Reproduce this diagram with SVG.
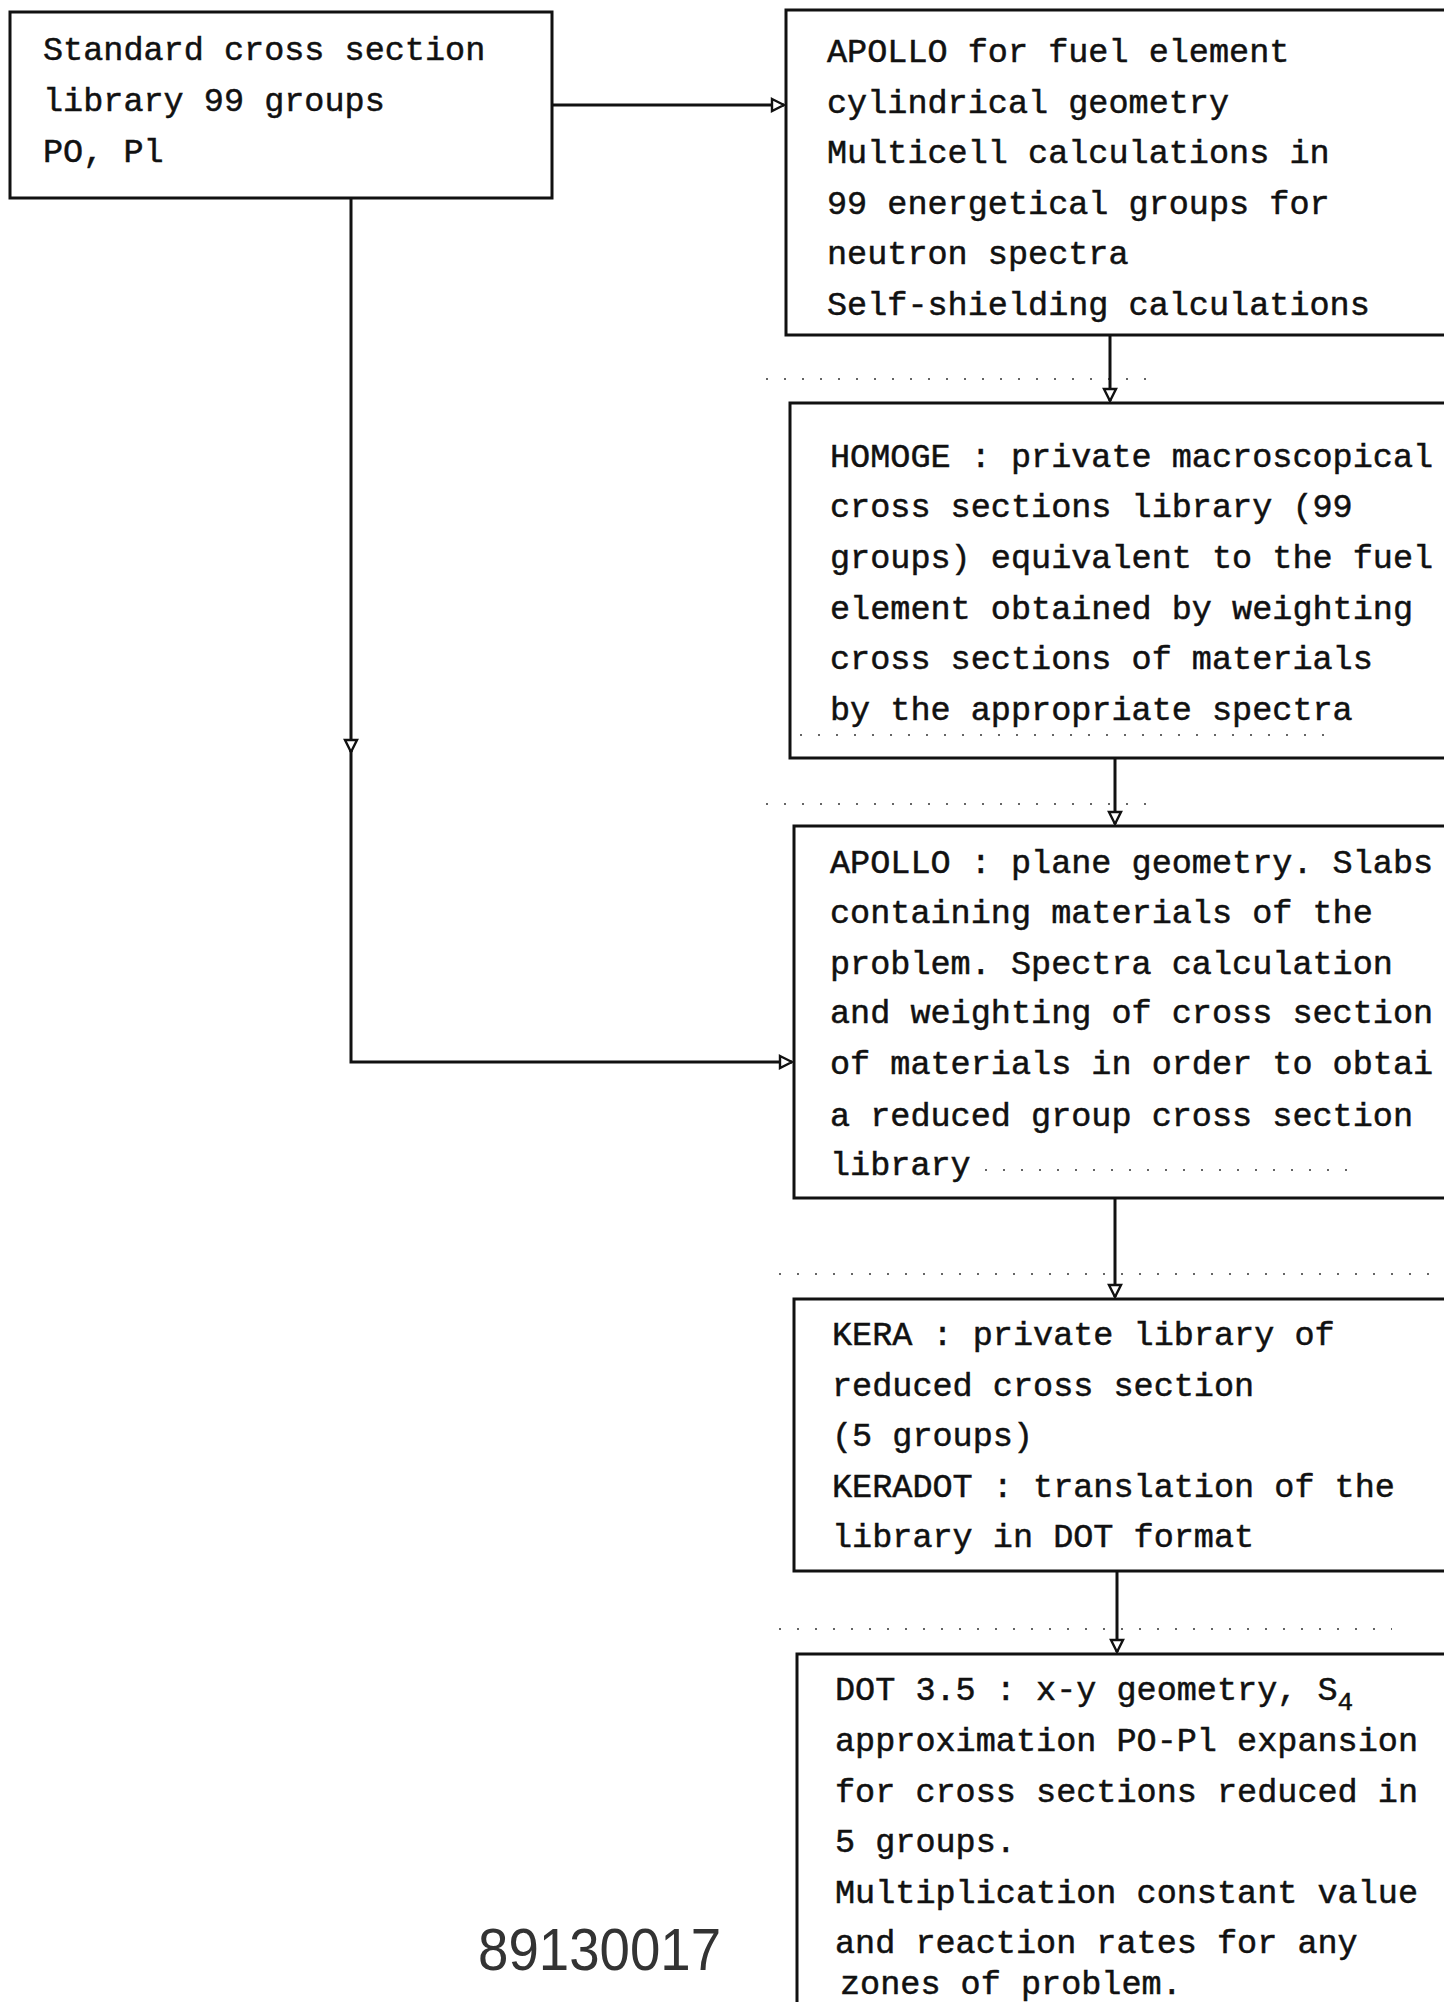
<svg xmlns="http://www.w3.org/2000/svg" width="1444" height="2002" viewBox="0 0 1444 2002">
<defs>
<style>
.box{fill:none;stroke:#111;stroke-width:3}
.con{fill:none;stroke:#111;stroke-width:3}
.t{font-family:"Liberation Mono","DejaVu Sans Mono",monospace;font-size:33.5px;fill:#111;stroke:#111;stroke-width:0.5}
.dots{fill:none;stroke:#666;stroke-width:2;stroke-dasharray:2 16}
.num{font-family:"Liberation Sans Narrow","Liberation Sans",sans-serif;font-size:60px;fill:#333}
</style>
<marker id="ah" viewBox="0 0 16 16" refX="14" refY="8" markerWidth="16" markerHeight="16" orient="auto" markerUnits="userSpaceOnUse">
<path d="M2,2 L14,8 L2,14 Z" fill="#fff" stroke="#111" stroke-width="2.4"/>
</marker>
</defs>
<rect width="1444" height="2002" fill="#fff"/>

<g id="scan-dots">
<path class="dots" d="M766,379 H1160"/>
<path class="dots" d="M766,804 H1162"/>
<path class="dots" d="M779,1274 H1444"/>
<path class="dots" d="M779,1629 H1392"/>
<path class="dots" d="M800,735 H1340"/>
<path class="dots" d="M985,1170 H1350"/>
</g>

<g id="connectors">
<path class="con" d="M552,105 H784" marker-end="url(#ah)"/>
<path class="con" d="M351,198 V752" marker-end="url(#ah)"/>
<path class="con" d="M351,750 V1062 H792" marker-end="url(#ah)"/>
<path class="con" d="M1110,335 V401" marker-end="url(#ah)"/>
<path class="con" d="M1115,758 V824" marker-end="url(#ah)"/>
<path class="con" d="M1115,1198 V1297" marker-end="url(#ah)"/>
<path class="con" d="M1117,1571 V1652" marker-end="url(#ah)"/>
</g>

<g id="n1">
<rect class="box" x="10" y="12" width="542" height="186"/>
<text class="t" x="43" y="60">Standard cross section</text>
<text class="t" x="43" y="111">library 99 groups</text>
<text class="t" x="43" y="162">PO, Pl</text>
</g>

<g id="n2">
<path class="box" d="M1444,10 H786 V335 H1444"/>
<text class="t" x="827" y="62">APOLLO for fuel element</text>
<text class="t" x="827" y="113">cylindrical geometry</text>
<text class="t" x="827" y="163">Multicell calculations in</text>
<text class="t" x="827" y="214">99 energetical groups for</text>
<text class="t" x="827" y="264">neutron spectra</text>
<text class="t" x="827" y="315">Self-shielding calculations</text>
</g>

<g id="n3">
<path class="box" d="M1444,403 H790 V758 H1444"/>
<text class="t" x="830" y="467">HOMOGE : private macroscopical</text>
<text class="t" x="830" y="517">cross sections library (99</text>
<text class="t" x="830" y="568">groups) equivalent to the fuel</text>
<text class="t" x="830" y="619">element obtained by weighting</text>
<text class="t" x="830" y="669">cross sections of materials</text>
<text class="t" x="830" y="720">by the appropriate spectra</text>
</g>

<g id="n4">
<path class="box" d="M1444,826 H794 V1198 H1444"/>
<text class="t" x="830" y="873">APOLLO : plane geometry. Slabs</text>
<text class="t" x="830" y="923">containing materials of the</text>
<text class="t" x="830" y="974">problem. Spectra calculation</text>
<text class="t" x="830" y="1023">and weighting of cross section</text>
<text class="t" x="830" y="1074">of materials in order to obtai</text>
<text class="t" x="830" y="1126">a reduced group cross section</text>
<text class="t" x="830" y="1175">library</text>
</g>

<g id="n5">
<path class="box" d="M1444,1299 H794 V1571 H1444"/>
<text class="t" x="832" y="1345">KERA : private library of</text>
<text class="t" x="832" y="1396">reduced cross section</text>
<text class="t" x="832" y="1446">(5 groups)</text>
<text class="t" x="832" y="1497">KERADOT : translation of the</text>
<text class="t" x="832" y="1547">library in DOT format</text>
</g>

<g id="n6">
<path class="box" d="M1444,1654 H797 V2002"/>
<text class="t" x="835" y="1700">DOT 3.5 : x-y geometry, S<tspan font-size="26" dy="10">4</tspan></text>
<text class="t" x="835" y="1751">approximation PO-Pl expansion</text>
<text class="t" x="835" y="1802">for cross sections reduced in</text>
<text class="t" x="835" y="1852">5 groups.</text>
<text class="t" x="835" y="1903">Multiplication constant value</text>
<text class="t" x="835" y="1953">and reaction rates for any</text>
<text class="t" x="840" y="1994">zones of problem.</text>
</g>

<text class="num" x="478" y="1970" textLength="243" lengthAdjust="spacingAndGlyphs">89130017</text>
</svg>
